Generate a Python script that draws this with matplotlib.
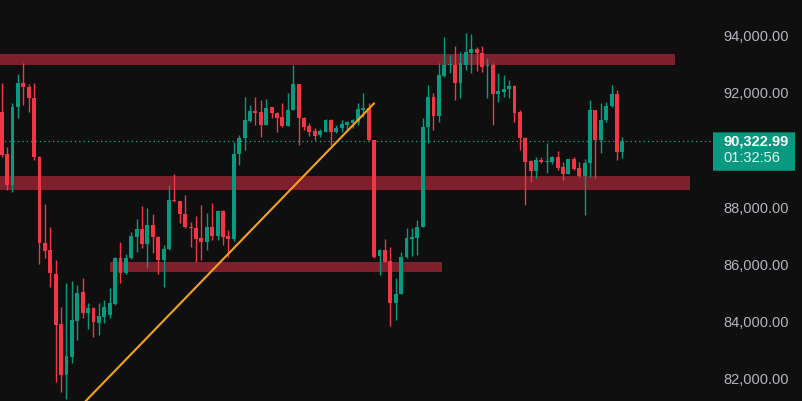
import matplotlib
matplotlib.use('Agg')
import matplotlib.pyplot as plt
from matplotlib.patches import Rectangle, FancyBboxPatch
from matplotlib.transforms import blended_transform_factory

# candle data, one entry per candle
opens = [91340, 89850, 88775, 91495, 92355, 92215, 91810, 89765, 86755, 86500,
         85660, 83900, 82125, 82765, 84025, 85040, 84305, 84470, 83955, 84145,
         84225, 84610, 86230, 85685, 86230, 86965, 87235, 86710, 87375, 86965,
         86150, 86525, 88250, 88205, 87750, 87315, 87270, 86910, 86790, 87315,
         86990, 87865, 86990, 86875, 89860, 90410, 91025, 91365, 91340, 90875,
         91495, 91285, 91165, 90840, 91400, 92310, 91110, 90840, 90665, 90525,
         90640, 91050, 90620, 90760, 90875, 90935, 90990, 91400, 91460, 90350,
         86300, 86500, 86125, 84635, 84960, 86265, 86875, 86925, 87315, 90815,
         91865, 91190, 92590, 92975, 92975, 92355, 92975, 93405, 93535, 93385,
         92940, 92975, 91950, 92040, 92125, 92240, 91340, 90410, 89615, 89280,
         89650, 89570, 89590, 89745, 89395, 89160, 89685, 89360, 89090, 89535,
         91400, 90350, 91050, 91540, 91960, 89940]
highs = [92345, 90115, 91645, 92660, 93035, 92310, 92335, 89800, 88110, 87315,
         86150, 84515, 85355, 85425, 85275, 85510, 84635, 84515, 84635, 84750,
         85170, 86265, 86790, 86360, 87140, 87575, 88040, 87960, 87750, 86990,
         86675, 88775, 89160, 88230, 88425, 87490, 87690, 88075, 87785, 88135,
         87865, 87900, 87200, 90290, 90525, 91865, 91575, 91865, 91750, 91775,
         91495, 91340, 91655, 91985, 92975, 92310, 91165, 90935, 90760, 90725,
         91085, 91085, 90875, 91050, 91025, 91085, 91635, 91985, 91635, 90350,
         86525, 86875, 86615, 85510, 86440, 87260, 87260, 87550, 91110, 92275,
         91985, 93035, 93960, 93325, 93640, 93440, 94105, 94060, 93595, 93640,
         93210, 93035, 92685, 92625, 92450, 92275, 91400, 90440, 89650, 89765,
         89745, 90255, 89780, 89965, 89590, 89700, 89745, 89590, 89675, 91750,
         91400, 91655, 91690, 92275, 92100, 90465]
lows = [89755, 88600, 88540, 91120, 91575, 91340, 89650, 86010, 86210, 85215,
        81890, 81540, 81300, 82535, 83350, 84110, 83725, 83445, 83525, 83935,
        84120, 84575, 85355, 85650, 86175, 86440, 86560, 85880, 86405, 85660,
        85215, 86500, 88180, 87435, 87260, 86615, 86090, 86150, 86500, 86850,
        86850, 86675, 86265, 86815, 89475, 90000, 90990, 90875, 90445, 90875,
        91110, 90640, 90815, 90840, 91400, 90175, 90700, 90490, 90350, 90445,
        90640, 90175, 90585, 90640, 90700, 90760, 90875, 91165, 90300, 86210,
        85625, 86090, 83840, 84050, 84960, 86210, 86300, 86325, 87315, 90235,
        90700, 90990, 92565, 92685, 91750, 91810, 92800, 92685, 92775, 92740,
        91810, 90875, 91690, 91865, 91810, 90990, 90000, 88075, 88895, 89010,
        89535, 89205, 89500, 89300, 88950, 89160, 89300, 89070, 87725, 89070,
        89010, 89885, 90990, 91515, 89650, 89710]
closes = [89825, 88775, 91515, 92355, 92195, 91810, 89745, 86755, 86475, 85685,
          83875, 82125, 82790, 84050, 85005, 84305, 84470, 83990, 84190, 84515,
          84645, 86230, 85685, 86230, 86990, 87235, 86710, 87375, 86945, 86150,
          86525, 88250, 88205, 87750, 87295, 87260, 86900, 86790, 87315, 86990,
          87865, 86965, 86875, 89860, 90410, 91050, 91365, 91305, 90875, 91460,
          91285, 91110, 90840, 91400, 92310, 91110, 90815, 90640, 90490, 90675,
          91050, 90620, 90780, 90910, 90990, 91050, 91425, 91460, 90350, 86265,
          86500, 86090, 84635, 84960, 86265, 86910, 86965, 87315, 90815, 91865,
          91190, 92625, 92975, 93010, 92335, 93035, 93440, 93535, 93385, 92915,
          92975, 91950, 92065, 92135, 92240, 91305, 90410, 89590, 89280, 89650,
          89590, 89615, 89745, 89360, 89160, 89685, 89335, 89090, 89535, 91400,
          90350, 91050, 91540, 91960, 89940, 90322.99]

# supply / demand zones: (start candle, end candle, low, high)
zones = [(-1, 124.7, 92975, 93360),
         (-1, 127.5, 88600, 89090),
         (20.0, 81.6, 85740, 86090)]

# trend line: (candle, price) end points
trend_x = [15.0, 69.0]
trend_y = [81104, 91635]

price_ticks = [82000, 84000, 86000, 88000, 92000, 94000]
last_time = '01:32:56'

bg = '#0f0f0f'
up_col = '#089981'
down_col = '#f23645'
zone_col = '#7e1f2c'

fig = plt.figure(figsize=(8.02, 4.01), dpi=100)
fig.patch.set_facecolor(bg)
ax = fig.add_axes([0, 0, 712 / 802, 1])
ax.set_facecolor(bg)
ax.set_xlim(-0.315, 131.6)
ax.set_ylim(81215, 95250)
for s in ax.spines.values():
    s.set_visible(False)
ax.tick_params(axis='x', bottom=False, labelbottom=False)

for x0, x1, lo, hi in zones:
    ax.add_patch(Rectangle((x0, lo), x1 - x0, hi - lo, color=zone_col, lw=0, zorder=1))

last = closes[-1]
ax.axhline(last, color='#0fae92', lw=0.9, ls=(0, (1, 2.5)), zorder=2)

xs = list(range(len(opens)))
cols = [up_col if c >= o else down_col for o, c in zip(opens, closes)]
ax.vlines(xs, lows, highs, colors=cols, lw=1, zorder=3)
bottoms = [min(o, c) for o, c in zip(opens, closes)]
heights = [max(abs(c - o), 25) for o, c in zip(opens, closes)]
ax.bar(xs, heights, bottom=bottoms, width=0.72, color=cols, lw=0, zorder=4)

ax.plot(trend_x, trend_y, color='#f5a21b', lw=1.5, zorder=5, solid_capstyle='round')

ax.yaxis.tick_right()
ax.set_yticks(price_ticks)
ax.set_yticklabels(['{:,.2f}'.format(v) for v in price_ticks])
ax.tick_params(axis='y', length=0, pad=8, labelcolor='#b2b5be', labelsize=10.5)
for lab in ax.get_yticklabels():
    lab.set_fontfamily('Liberation Sans')

# last price label
tr = blended_transform_factory(fig.transFigure, ax.transData)
box = FancyBboxPatch((713 / 802, last - 1050), 82 / 802, 1345,
                     boxstyle='round,pad=0,rounding_size=0.004',
                     transform=tr, color=up_col, lw=0, clip_on=False)
fig.add_artist(box)
fig.text(723 / 802, last - 10, '{:,.2f}'.format(last), transform=tr, color='white',
         fontsize=10.5, fontweight='bold', family='Liberation Sans', va='center')
fig.text(723 / 802, last - 600, last_time, transform=tr, color='#e6f4f1',
         fontsize=10.5, family='Liberation Sans', va='center')

fig.savefig('out.png', dpi=100, facecolor=bg)
